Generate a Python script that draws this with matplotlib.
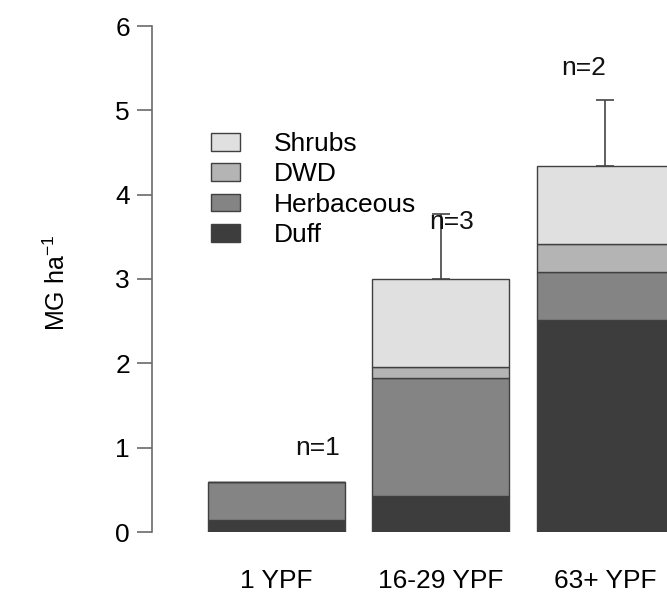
import numpy as np
import matplotlib.pyplot as plt

plt.rcParams['font.family'] = ['Liberation Sans', 'DejaVu Sans']

# Fuel loading by time since fire (stacked, Mg/ha)
groups = ['1 YPF', '16-29 YPF', '63+ YPF']
duff = [0.14, 0.43, 2.51]
herbaceous = [0.45, 1.40, 0.57]
dwd = [0.00, 0.13, 0.34]
shrubs = [0.00, 1.04, 0.92]
err_up = [0.0, 0.77, 0.78]
n_labels = ['n=1', 'n=3', 'n=2']

layers = [('Duff', duff, '#3d3d3d'),
          ('Herbaceous', herbaceous, '#848484'),
          ('DWD', dwd, '#b4b4b4'),
          ('Shrubs', shrubs, '#e0e0e0')]

FS = 19
W, H = 667, 593
fig = plt.figure(figsize=(W / 100, H / 100), dpi=100)
# plot region: y axis line at x=152px, 0 at y=532px, 6 at y=26px
ax = fig.add_axes([152 / W, 1 - 532 / H, 1 - 152 / W, (532 - 26) / H])

# barplot positions: width 1, space 0.2
x = 0.7 + 1.2 * np.arange(len(groups))
bottom = np.zeros(len(groups))
handles = {}
for name, vals, col in layers:
    vals = np.array(vals)
    bars = ax.bar(x, vals, width=1.0, bottom=bottom, color=col,
                  edgecolor='#404040', linewidth=1.0)
    handles[name] = bars
    bottom += vals

# upward error bars from bar tops
for xi, top, e in zip(x, bottom, err_up):
    if e > 0:
        ax.errorbar(xi, top, yerr=[[0], [e]], fmt='none', ecolor='#444444',
                    elinewidth=1.2, capsize=6.5, capthick=1.2)

# sample-size labels
n_pos = [(1.00, 1.00), (1.98, 3.68), (2.94, 5.50)]
for (tx, ty), lab in zip(n_pos, n_labels):
    ax.text(tx, ty, lab, ha='center', va='center', fontsize=FS, color='#111111')

ax.set_xlim(-0.209, 3.55)
ax.set_ylim(0, 6)
for s in ['top', 'right', 'bottom']:
    ax.spines[s].set_visible(False)
ax.spines['left'].set_color('#6a6a6a')
ax.spines['left'].set_linewidth(1.2)
ax.spines['left'].set_bounds(0, 6)
ax.set_yticks(range(7))
ax.tick_params(axis='y', length=10.8, width=1.2, color='#6a6a6a',
               labelsize=FS, pad=5)
ax.set_xticks(x)
ax.set_xticklabels(groups, fontsize=FS)
ax.tick_params(axis='x', length=0, pad=27)

fig.text(57 / W, 1 - 283 / H, 'MG ha$^{\\mathregular{-1}}$', rotation=90,
         ha='center', va='center', fontsize=18)

order = ['Shrubs', 'DWD', 'Herbaceous', 'Duff']
leg = ax.legend([handles[k] for k in order], order, frameon=False,
                fontsize=FS, loc='upper left',
                bbox_to_anchor=(211 / W, 1 - 132 / H),
                bbox_transform=fig.transFigure,
                handlelength=1.1, handleheight=0.65, handletextpad=1.3,
                labelspacing=0.24, borderaxespad=0, borderpad=0)

fig.savefig('out.png', dpi=100)
